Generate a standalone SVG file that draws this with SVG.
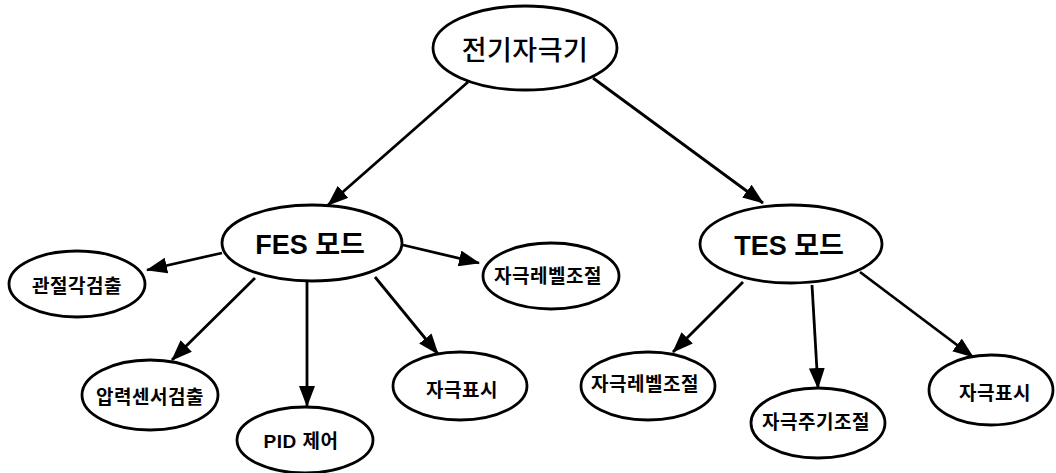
<svg xmlns="http://www.w3.org/2000/svg" width="1056" height="473" viewBox="0 0 1056 473">
<style>
.node ellipse{fill:#fff;stroke:#000;stroke-width:2.8}
.node text{font-family:"Liberation Sans","Noto Sans CJK KR",sans-serif;font-weight:bold;text-anchor:middle;dominant-baseline:central;fill:#000}
.small text{font-size:19px;letter-spacing:0.5px}
.mid text{font-size:27px}
.top text{font-size:27px;font-weight:500;letter-spacing:0.5px}
#connectors line{stroke:#000;stroke-width:2.8;marker-end:url(#arrow)}
</style>
<defs>
<marker id="arrow" markerUnits="userSpaceOnUse" markerWidth="21" markerHeight="16" refX="20" refY="8" orient="auto">
<path d="M0,0 L21,8 L0,16 z" fill="#000"/>
</marker>
</defs>
<rect width="1056" height="473" fill="#fff"/>
<g id="connectors">
<line x1="468" y1="82" x2="328" y2="205"/>
<line x1="593" y1="78" x2="763" y2="203"/>
<line x1="222" y1="253" x2="147" y2="270"/>
<line x1="403" y1="245" x2="479" y2="263"/>
<line x1="255" y1="278" x2="172" y2="360"/>
<line x1="307" y1="282" x2="307" y2="406"/>
<line x1="375" y1="277" x2="438" y2="354"/>
<line x1="743" y1="282" x2="673" y2="352"/>
<line x1="812" y1="285" x2="818" y2="388"/>
<line x1="860" y1="272" x2="973" y2="357"/>
</g>
<g id="n-root" class="node top"><ellipse cx="525" cy="48" rx="92" ry="42"/><text x="525" y="51">전기자극기</text></g>
<g id="n-fes" class="node mid"><ellipse cx="312" cy="243" rx="90" ry="38"/><text x="310" y="245">FES 모드</text></g>
<g id="n-tes" class="node mid"><ellipse cx="791" cy="244" rx="91" ry="39"/><text x="789" y="246">TES 모드</text></g>
<g id="n-joint" class="node small"><ellipse cx="77" cy="284" rx="68" ry="33"/><text x="77" y="286">관절각검출</text></g>
<g id="n-fes-level" class="node small"><ellipse cx="551" cy="276" rx="68" ry="33"/><text x="548" y="276">자극레벨조절</text></g>
<g id="n-pressure" class="node small"><ellipse cx="150" cy="395" rx="68" ry="35"/><text x="150" y="397">압력센서검출</text></g>
<g id="n-pid" class="node small"><ellipse cx="305" cy="440" rx="68" ry="33"/><text x="301" y="441">PID 제어</text></g>
<g id="n-fes-disp" class="node small"><ellipse cx="460" cy="386" rx="67" ry="34"/><text x="462" y="390">자극표시</text></g>
<g id="n-tes-level" class="node small"><ellipse cx="648" cy="386" rx="67" ry="34"/><text x="645" y="384">자극레벨조절</text></g>
<g id="n-tes-period" class="node small"><ellipse cx="818" cy="423" rx="67" ry="35"/><text x="816" y="422">자극주기조절</text></g>
<g id="n-tes-disp" class="node small"><ellipse cx="991" cy="390" rx="62" ry="35"/><text x="995" y="393">자극표시</text></g>
</svg>
